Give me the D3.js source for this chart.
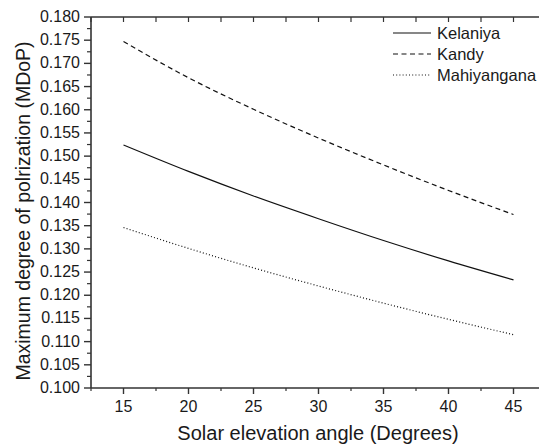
<!DOCTYPE html>
<html>
<head>
<meta charset="utf-8">
<script src="https://cdn.jsdelivr.net/npm/d3@7"></script>
<style>
  body { margin: 0; background: #fff; }
  text { font-family: "Liberation Sans", Arial, sans-serif; fill: #1a1a1a; }
</style>
</head>
<body>
<div id="chart"></div>
<script>
// data
var angles = [15, 20, 25, 30, 35, 40, 45];
var kelaniya = [0.1524, 0.1467, 0.1414, 0.1365, 0.1318, 0.1274, 0.1233];
var kandy = [0.1747, 0.1669, 0.1601, 0.1539, 0.1481, 0.1426, 0.1374];
var mahiyangana = [0.1346, 0.1301, 0.1259, 0.1220, 0.1183, 0.1148, 0.1115];
var seriesNames = ["Kelaniya", "Kandy", "Mahiyangana"];
var xTicks = [15, 20, 25, 30, 35, 40, 45];
var yTicks = [0.100, 0.105, 0.110, 0.115, 0.120, 0.125, 0.130, 0.135, 0.140,
  0.145, 0.150, 0.155, 0.160, 0.165, 0.170, 0.175, 0.180];

var width = 539, height = 448;
var plotLeft = 91, plotTop = 17, plotRight = 546, plotBottom = 388;
var axisColor = "#333";

var svg = d3.select("#chart").append("svg")
  .attr("width", width)
  .attr("height", height);

var x = d3.scaleLinear().domain([12.5, 47.5]).range([plotLeft, plotRight]);
var y = d3.scaleLinear().domain([0.100, 0.180]).range([plotBottom, plotTop]);

// minor ticks
var xMinor = d3.range(12.5, 47.6, 2.5).filter(function(d) { return xTicks.indexOf(d) < 0; });
var yMinor = d3.range(0.1025, 0.180, 0.005);

// bottom axis
var gx = svg.append("g").attr("transform", "translate(0," + plotBottom + ")");
gx.append("line").attr("x1", plotLeft).attr("x2", plotRight).attr("stroke", axisColor).attr("stroke-width", 1.6);
gx.selectAll(".maj").data(xTicks).enter().append("line")
  .attr("x1", function(d) { return x(d); }).attr("x2", function(d) { return x(d); })
  .attr("y1", 0).attr("y2", 6).attr("stroke", axisColor).attr("stroke-width", 1.4);
gx.selectAll(".min").data(xMinor).enter().append("line")
  .attr("x1", function(d) { return x(d); }).attr("x2", function(d) { return x(d); })
  .attr("y1", 0).attr("y2", 3).attr("stroke", axisColor).attr("stroke-width", 1.2);
gx.selectAll("text").data(xTicks).enter().append("text")
  .attr("x", function(d) { return x(d); })
  .attr("y", 24)
  .attr("text-anchor", "middle")
  .style("font-size", "16px")
  .text(function(d) { return d; });

// top axis (mirror ticks inward)
var gt = svg.append("g").attr("transform", "translate(0," + plotTop + ")");
gt.append("line").attr("x1", plotLeft).attr("x2", plotRight).attr("stroke", axisColor).attr("stroke-width", 1.6);
gt.selectAll(".maj").data(xTicks.concat(xMinor)).enter().append("line")
  .attr("x1", function(d) { return x(d); }).attr("x2", function(d) { return x(d); })
  .attr("y1", 0).attr("y2", 5).attr("stroke", axisColor).attr("stroke-width", 1.2);

// left axis
var gy = svg.append("g").attr("transform", "translate(" + plotLeft + ",0)");
gy.append("line").attr("y1", plotTop).attr("y2", plotBottom).attr("stroke", axisColor).attr("stroke-width", 1.6);
gy.selectAll(".maj").data(yTicks).enter().append("line")
  .attr("y1", function(d) { return y(d); }).attr("y2", function(d) { return y(d); })
  .attr("x1", 0).attr("x2", -7).attr("stroke", axisColor).attr("stroke-width", 1.4);
gy.selectAll(".min").data(yMinor).enter().append("line")
  .attr("y1", function(d) { return y(d); }).attr("y2", function(d) { return y(d); })
  .attr("x1", 0).attr("x2", -4).attr("stroke", axisColor).attr("stroke-width", 1.2);
gy.selectAll("text").data(yTicks).enter().append("text")
  .attr("x", -11)
  .attr("y", function(d) { return y(d) + 5; })
  .attr("text-anchor", "end")
  .style("font-size", "16px")
  .text(function(d) { return d3.format(".3f")(d); });

// axis titles
svg.append("text")
  .attr("x", 318)
  .attr("y", 440)
  .attr("text-anchor", "middle")
  .style("font-size", "20px")
  .text("Solar elevation angle (Degrees)");

svg.append("text")
  .attr("transform", "translate(30,211) rotate(-90)")
  .attr("text-anchor", "middle")
  .style("font-size", "19.5px")
  .text("Maximum degree of polrization (MDoP)");

// lines
var styles = ["none", "5,3.5", "1,2.2"];
var all = [kelaniya, kandy, mahiyangana];
var line = d3.line()
  .x(function(d, i) { return x(angles[i]); })
  .y(function(d) { return y(d); })
  .curve(d3.curveMonotoneX);

svg.selectAll(".series").data(all).enter().append("path")
  .attr("d", line)
  .attr("fill", "none")
  .attr("stroke", "#111")
  .attr("stroke-width", 1.2)
  .attr("stroke-dasharray", function(d, i) { return styles[i]; });

// legend
var lg = svg.append("g").attr("transform", "translate(393,33)");
lg.selectAll("line").data(seriesNames).enter().append("line")
  .attr("x1", 0).attr("x2", 38)
  .attr("y1", function(d, i) { return i * 21; }).attr("y2", function(d, i) { return i * 21; })
  .attr("stroke", "#111").attr("stroke-width", 1.2)
  .attr("stroke-dasharray", function(d, i) { return styles[i]; });
lg.selectAll("text").data(seriesNames).enter().append("text")
  .attr("x", 44)
  .attr("y", function(d, i) { return i * 21 + 6; })
  .style("font-size", "16.5px")
  .text(function(d) { return d; });
</script>
</body>
</html>
